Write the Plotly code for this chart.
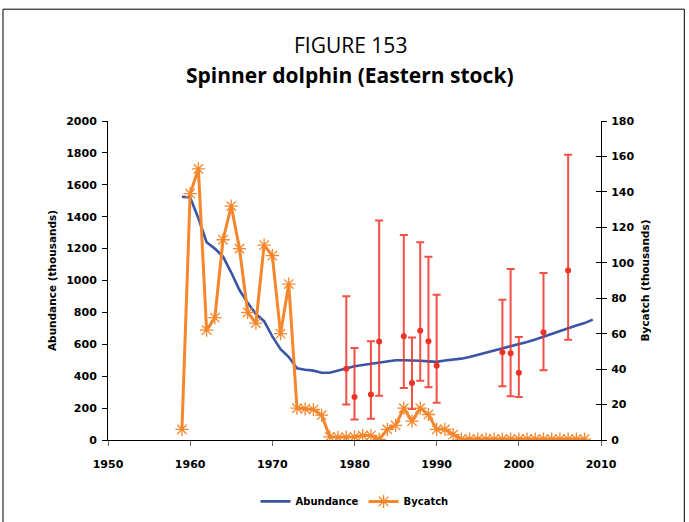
import plotly.graph_objects as go

# Abundance (thousands), left axis
abund_years = list(range(1959, 2010))
abundance = [1525, 1520, 1390, 1240, 1200, 1150, 1050, 940, 860, 790,
             745, 650, 570, 520, 450, 440, 435, 422, 422, 435,
             452, 462, 470, 478, 487, 495, 500, 500, 500, 497,
             493, 490, 498, 502, 510, 520, 533, 547, 560, 573,
             587, 600, 615, 630, 648, 665, 682, 700, 718, 733, 755]

# Bycatch (thousands), right axis
bycatch_years = list(range(1959, 2009))
bycatch = [6, 139, 153, 62, 69, 113, 132, 108, 72, 66,
           110, 104, 60, 88, 18, 17.6, 17.2, 14, 1.8, 1.5,
           1.5, 1.8, 2.5, 2.5, 0.3, 6, 8.2, 18, 10.6, 18,
           14.4, 6, 6, 3, 0.5, 0.5, 0.5, 0.5, 0.5, 0.5,
           0.5, 0.5, 0.5, 0.5, 0.5, 0.5, 0.5, 0.5, 0.5, 0.5]

# Abundance estimates with confidence intervals (thousands)
est_years = [1979, 1980, 1982, 1983, 1986, 1987, 1988, 1989, 1990,
             1998, 1999, 2000, 2003, 2006]
est_value = [447, 270, 285, 617, 650, 358, 685, 619, 466,
             550, 544, 421, 675, 1063]
est_upper = [902, 577, 619, 1376, 1286, 642, 1240, 1149, 911,
             880, 1072, 646, 1047, 1789]
est_lower = [222, 128, 133, 278, 326, 195, 372, 331, 233,
             337, 274, 270, 437, 629]

x_ticks = [1950, 1960, 1970, 1980, 1990, 2000, 2010]
left_ticks = list(range(0, 2001, 200))
right_ticks = list(range(0, 181, 20))

BLUE = "#3A55A6"
ORANGE = "#F5862C"
RED = "#EC3326"
TICKFONT = dict(family="DejaVu Sans", size=11, color="black", weight="bold")
TITLEFONT = dict(family="DejaVu Sans", size=10.5, color="black", weight="bold")

fig = go.Figure()

fig.add_trace(go.Scatter(
    x=abund_years, y=abundance, name="Abundance", mode="lines",
    line=dict(color=BLUE, width=2.6), yaxis="y"))

fig.add_trace(go.Scatter(
    x=bycatch_years, y=bycatch, name="Bycatch", mode="lines+markers",
    line=dict(color=ORANGE, width=3),
    marker=dict(symbol="asterisk-open", size=11, color=ORANGE,
                line=dict(color=ORANGE, width=1.3)),
    yaxis="y2"))

fig.add_trace(go.Scatter(
    x=est_years, y=est_value, mode="markers", showlegend=False,
    marker=dict(color=RED, size=6, symbol="circle"),
    error_y=dict(type="data", symmetric=False,
                 array=[u - v for u, v in zip(est_upper, est_value)],
                 arrayminus=[v - l for v, l in zip(est_value, est_lower)],
                 color="rgba(236,51,38,0.85)", thickness=2, width=4),
    yaxis="y"))

fig.update_layout(
    width=689, height=522,
    margin=dict(l=108, r=88, t=121, b=81.5, autoexpand=False),
    paper_bgcolor="white", plot_bgcolor="white",
    showlegend=True,
    legend=dict(orientation="h", x=0.5, xanchor="center", y=-0.1925,
                yanchor="middle", font=dict(family="DejaVu Sans", size=10,
                                            color="black", weight="bold"),
                itemwidth=30, bgcolor="rgba(0,0,0,0)"),
    xaxis=dict(range=[1950, 2010], tickvals=x_ticks, showgrid=False,
               zeroline=False, showline=True, linecolor="black", linewidth=1.2,
               ticks="outside", ticklen=5, tickcolor="#666", tickwidth=1,
               tickfont=TICKFONT, ticklabelstandoff=9),
    yaxis=dict(range=[0, 2000], tickvals=left_ticks, showgrid=False,
               zeroline=False, showline=True, linecolor="black", linewidth=1,
               ticks="outside", ticklen=5, tickcolor="black",
               tickfont=TICKFONT, ticklabelstandoff=3,
               title=dict(text="Abundance (thousands)", standoff=7,
                          font=TITLEFONT)),
    yaxis2=dict(range=[0, 180], tickvals=right_ticks, overlaying="y",
                side="right", anchor="x", showgrid=False, zeroline=False,
                showline=True, linecolor="black", linewidth=1,
                ticks="outside", ticklen=5, tickcolor="black",
                tickfont=TICKFONT, ticklabelstandoff=2,
                title=dict(text="Bycatch (thousands)", standoff=8,
                           font=TITLEFONT)),
    yaxis3=dict(range=[0, 180], tickvals=right_ticks, overlaying="y",
                side="right", anchor="x", showgrid=False, zeroline=False,
                showline=False, ticks="inside", ticklen=5,
                tickcolor="black", showticklabels=False),
)

# invisible trace to activate yaxis3 (inside ticks on the right axis)
fig.add_trace(go.Scatter(x=[None], y=[None], yaxis="y3", showlegend=False,
                         hoverinfo="skip"))

fig.add_annotation(text="FIGURE 153", xref="paper", yref="paper",
                   x=0.491, y=1.238, showarrow=False, xanchor="center",
                   yanchor="middle",
                   font=dict(family="Open Sans", size=21, color="black"))
fig.add_annotation(text="<b>Spinner dolphin (Eastern stock)</b>", xref="paper",
                   yref="paper", x=0.491, y=1.144, showarrow=False,
                   xanchor="center", yanchor="middle",
                   font=dict(family="Open Sans", size=21, color="black"))

# outer frame
fig.add_shape(type="line", xref="paper", yref="paper",
              x0=-0.213, x1=1.169, y0=1.3505, y1=1.3505,
              line=dict(color="black", width=1))
fig.add_shape(type="line", xref="paper", yref="paper",
              x0=-0.213, x1=-0.213, y0=1.3505, y1=-0.3,
              line=dict(color="black", width=1))
fig.add_shape(type="line", xref="paper", yref="paper",
              x0=1.169, x1=1.169, y0=1.3505, y1=-0.3,
              line=dict(color="black", width=1))

fig.write_html("out.html")
